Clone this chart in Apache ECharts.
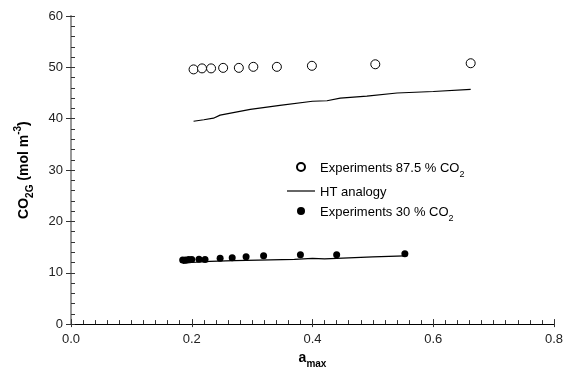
<!DOCTYPE html>
<html>
<head>
<meta charset="utf-8">
<script src="https://cdn.jsdelivr.net/npm/echarts@6/dist/echarts.min.js"></script>
<style>
  html, body { margin: 0; padding: 0; background: #fff; }
  #chart { width: 571px; height: 374px; }
</style>
</head>
<body>
<div id="chart"></div>
<script>
// Experiments 87.5 % CO2 (open circles)
const highExpX = [0.203, 0.217, 0.232, 0.252, 0.278, 0.302, 0.341, 0.399, 0.504, 0.662];
const highExpY = [49.6, 49.8, 49.8, 49.9, 49.9, 50.1, 50.1, 50.3, 50.6, 50.8];

// HT analogy, upper curve
const highHtX = [0.203, 0.22, 0.236, 0.247, 0.297, 0.346, 0.4, 0.424, 0.446, 0.49, 0.54, 0.6, 0.662];
const highHtY = [39.5, 39.8, 40.1, 40.7, 41.8, 42.6, 43.4, 43.5, 44.0, 44.4, 45.0, 45.3, 45.7];

// Experiments 30 % CO2 (filled dots)
const lowExpX = [0.185, 0.19, 0.195, 0.2, 0.212, 0.222, 0.247, 0.267, 0.29, 0.319, 0.38, 0.44, 0.553];
const lowExpY = [12.5, 12.5, 12.6, 12.6, 12.65, 12.6, 12.8, 12.9, 13.1, 13.3, 13.5, 13.5, 13.7];

// HT analogy, lower curve
const lowHtX = [0.185, 0.2, 0.23, 0.27, 0.33, 0.37, 0.4, 0.42, 0.47, 0.5, 0.553];
const lowHtY = [11.8, 12.0, 12.2, 12.35, 12.5, 12.6, 12.8, 12.7, 12.95, 13.1, 13.3];

const xTicks = [0, 0.2, 0.4, 0.6, 0.8];
const yTicks = [0, 10, 20, 30, 40, 50, 60];

const pairs = (xs, ys) => xs.map((x, i) => [x, ys[i]]);

const axisColor = "#333";
const font = "Arial, 'Liberation Sans', sans-serif";

const chart = echarts.init(document.getElementById("chart"));

const option = {
  animation: false,
  textStyle: { fontFamily: font },
  grid: { left: 71, right: 17, top: 16, bottom: 46, containLabel: false },
  legend: {
    orient: "vertical",
    left: 282,
    top: 157,
    itemWidth: 28,
    itemHeight: 8,
    itemGap: 7,
    data: [
      { name: "Experiments 87.5 % CO2" },
      { name: "HT analogy", icon: "path://M0,0H28V1.2H0Z", itemStyle: { color: "#000" } },
      { name: "Experiments 30 % CO2" },
    ],
    formatter: (name) => {
      if (name.endsWith("CO2")) {
        return "{t|" + name.slice(0, -1) + "}{s|2}";
      }
      return "{t|" + name + "}";
    },
    textStyle: {
      color: "#000",
      rich: {
        t: { fontSize: 13, fontFamily: font, color: "#000", lineHeight: 16, verticalAlign: "bottom" },
        s: { fontSize: 9, fontFamily: font, color: "#000", lineHeight: 16, verticalAlign: "bottom", padding: [0, 0, -4, 0] },
      },
    },
  },
  xAxis: [
    {
      type: "value",
      min: 0,
      max: 0.8,
      interval: 0.2,
      name: "{b|a}{bs|max}",
      nameLocation: "middle",
      nameGap: 22,
      nameTextStyle: {
        rich: {
          b: { fontSize: 14, fontWeight: "bold", fontFamily: font, color: "#000", verticalAlign: "bottom", lineHeight: 16 },
          bs: { fontSize: 10, fontWeight: "bold", fontFamily: font, color: "#000", verticalAlign: "bottom", lineHeight: 16, padding: [0, 0, -4, 0] },
        },
      },
      axisLine: { onZero: false, lineStyle: { color: axisColor, width: 1 } },
      axisTick: { inside: true, length: 5, lineStyle: { color: axisColor } },
      minorTick: { show: true, splitNumber: 10, length: 4, lineStyle: { color: axisColor } },
      axisLabel: {
        margin: 9,
        fontSize: 13,
        color: "#222",
        fontFamily: font,
        customValues: xTicks,
        formatter: (v) => v.toFixed(1),
      },
      splitLine: { show: false },
    },
    {
      type: "value",
      position: "bottom",
      min: 0,
      max: 0.8,
      interval: 0.2,
      axisLine: { show: false },
      axisTick: { inside: false, length: 3, lineStyle: { color: axisColor } },
      axisLabel: { show: false },
      splitLine: { show: false },
    },
    {
      type: "value",
      position: "top",
      min: 0,
      max: 0.8,
      axisLine: { show: true, lineStyle: { color: "#000", width: 1 } },
      axisTick: { show: false },
      axisLabel: { show: false },
      splitLine: { show: false },
    },
  ],
  yAxis: [
    {
      type: "value",
      position: "left",
      min: 0,
      max: 60,
      interval: 10,
      name: "{b|CO}{bs|2G}{b| (mol m}{bp|-3}{b|)}",
      nameLocation: "middle",
      nameGap: 40,
      nameRotate: 90,
      nameTextStyle: {
        rich: {
          b: { fontSize: 14, fontWeight: "bold", fontFamily: font, color: "#000", verticalAlign: "bottom", lineHeight: 18 },
          bs: { fontSize: 10, fontWeight: "bold", fontFamily: font, color: "#000", verticalAlign: "bottom", lineHeight: 18, padding: [0, 0, -4, 0] },
          bp: { fontSize: 10, fontWeight: "bold", fontFamily: font, color: "#000", verticalAlign: "top", lineHeight: 18 },
        },
      },
      axisLine: { onZero: false, lineStyle: { color: axisColor, width: 1.5 } },
      axisTick: { inside: false, length: 5, lineStyle: { color: axisColor } },
      axisLabel: {
        margin: 8,
        fontSize: 13,
        color: "#222",
        fontFamily: font,
        customValues: yTicks,
      },
      splitLine: { show: false },
    },
    {
      type: "value",
      position: "left",
      min: 0,
      max: 60,
      interval: 10,
      axisLine: { show: false },
      axisTick: { inside: true, length: 4, lineStyle: { color: axisColor } },
      minorTick: { show: true, splitNumber: 5, length: 4, lineStyle: { color: axisColor } },
      axisLabel: { show: false },
      splitLine: { show: false },
    },
    {
      type: "value",
      position: "right",
      min: 0,
      max: 60,
      axisLine: { show: true, lineStyle: { color: "#aaa", width: 1.5 } },
      axisTick: { show: false },
      axisLabel: { show: false },
      splitLine: { show: false },
    },
  ],
  series: [
    {
      name: "Experiments 87.5 % CO2",
      type: "scatter",
      symbol: "circle",
      symbolSize: 9,
      itemStyle: { color: "#fff", borderColor: "#000", borderWidth: 1, opacity: 1 },
      data: pairs(highExpX, highExpY),
    },
    {
      name: "HT analogy",
      type: "line",
      symbol: "none",
      lineStyle: { color: "#000", width: 1.2 },
      itemStyle: { color: "#000" },
      data: pairs(highHtX, highHtY),
    },
    {
      name: "HT analogy",
      type: "line",
      symbol: "none",
      lineStyle: { color: "#000", width: 1.2 },
      itemStyle: { color: "#000" },
      data: pairs(lowHtX, lowHtY),
    },
    {
      name: "Experiments 30 % CO2",
      type: "scatter",
      symbol: "circle",
      symbolSize: 7,
      itemStyle: { color: "#000", opacity: 1 },
      data: pairs(lowExpX, lowExpY),
    },
  ],
};

chart.setOption(option);
</script>
</body>
</html>
